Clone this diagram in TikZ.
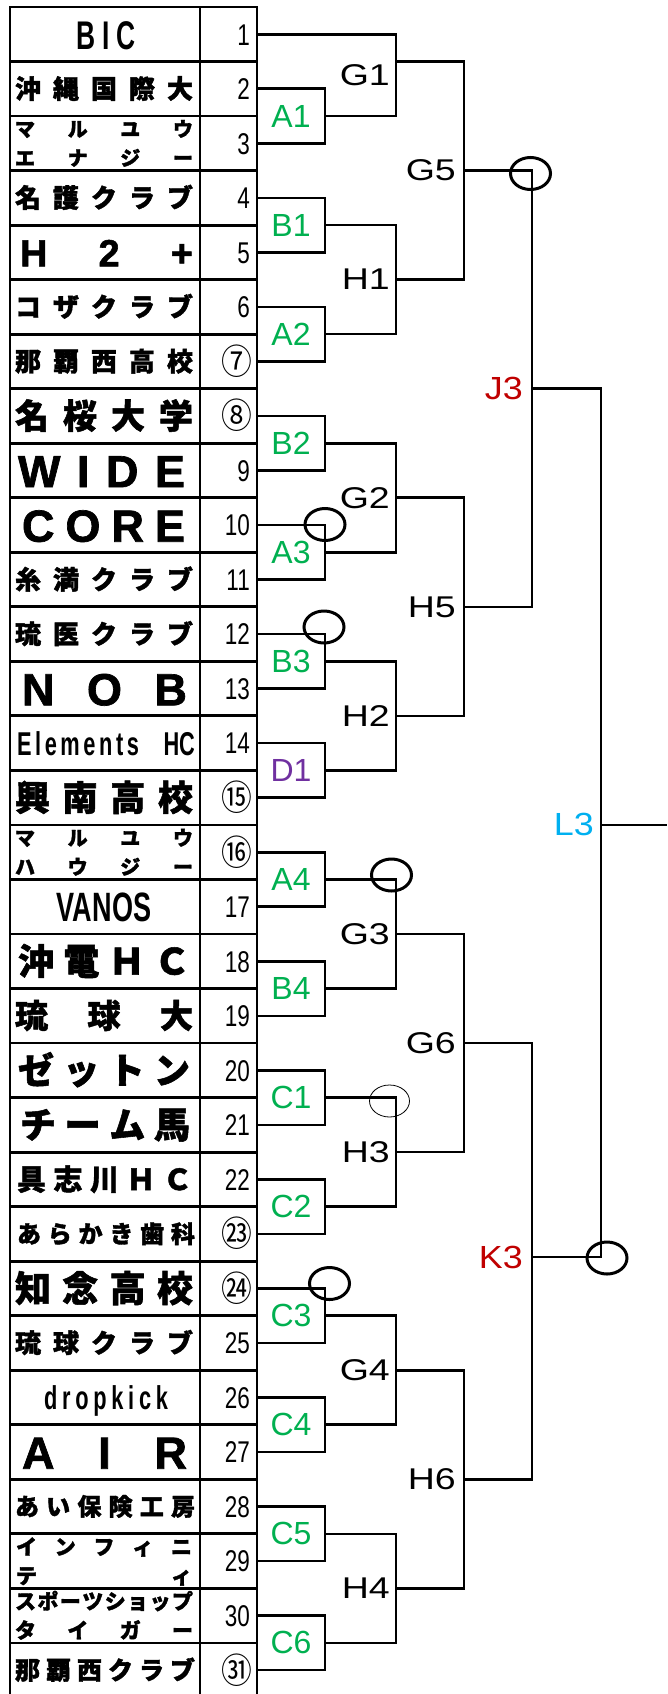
\documentclass[tikz,border=0pt]{standalone}
\usepackage{fontspec}
\usetikzlibrary{calc}
\setmainfont{Liberation Sans}
\newfontfamily\jp{Noto Sans CJK JP}[BoldFeatures={FakeBold=1.5}]
\newfontfamily\lat{Liberation Sans}[BoldFeatures={FakeBold=1.5}]
\newfontfamily\cond{Liberation Sans}[FakeStretch=0.66]
\newfontfamily\numf{Liberation Sans}[FakeStretch=0.75]
\newfontfamily\circf{Noto Sans CJK JP}[FakeStretch=0.88]
\newfontfamily\labf{Liberation Sans}[FakeStretch=1.25]
\newfontfamily\labc{Liberation Sans}[FakeStretch=1.12]
\definecolor{xgreen}{HTML}{00B050}
\definecolor{xpurple}{HTML}{7030A0}
\definecolor{xred}{HTML}{C00000}
\definecolor{xblue}{HTML}{00B0F0}
\newcommand\rc[1]{(7+54.53*(#1-0.5))}
\newcommand\rb[1]{(7+54.53*(#1))}
\newcommand\spr[2]{\makebox[#1pt][s]{#2}}
\newcommand\J{\jp\bfseries}
\newcommand\C{\cond\bfseries}
\newcommand\tn[4]{\node[anchor=base, inner sep=0pt] (t#1) at (#2, {\rc{#1}+0.37*#3}) {\fontsize{#3pt}{#3pt}\selectfont #4};}
\newcommand\tnn[5]{%
 \node[anchor=base, inner sep=0pt] (t#1a) at (#2, {7+54.53*(#1-1)+13+0.37*#3}) {\fontsize{#3pt}{#3pt}\selectfont #4};
 \node[anchor=base, inner sep=0pt] (t#1b) at (#2, {7+54.53*(#1-1)+42+0.37*#3}) {\fontsize{#3pt}{#3pt}\selectfont #5};}
\tikzset{
 tbl/.style={line width=2.8pt},
 br/.style={line width=2.6pt},
 ring/.style={line width=3pt},
 thinring/.style={line width=0.8pt},
 rbox/.style={draw, line width=2.6pt, minimum width=68pt, minimum height=54.53pt, inner sep=0pt,
   font={\fontsize{32pt}{32pt}\selectfont}, text=xgreen},
 num/.style={anchor=base east, inner sep=0pt, font={\numf\fontsize{30pt}{30pt}\selectfont}},
 cnum/.style={anchor=base east, inner sep=0pt, font={\circf\fontsize{35pt}{35pt}\selectfont}},
 lab/.style={anchor=east, inner sep=0pt, font={\labf\fontsize{30pt}{30pt}\selectfont}},
 labk/.style={anchor=east, inner sep=0pt, font={\labc\fontsize{32pt}{32pt}\selectfont}},
}
\begin{document}
\begin{tikzpicture}[x=1pt,y=-1pt]
\clip (0,0) rectangle (667,1694);
\fill[white] (0,0) rectangle (667,1694);
% table
\draw[tbl] (10,7) rectangle (257,1697.5);
\draw[tbl] (200,7) -- (200,1697.5);
\foreach \k in {1,...,30} {\draw[tbl] (10,{7+54.53*\k}) -- (257,{7+54.53*\k});}
% team names
\tn{1}{106}{40}{\C\spr{60}{B\hfill I\hfill C}}
\tn{2}{104}{26}{\J\spr{178}{沖\hfill 縄\hfill 国\hfill 際\hfill 大}}
\tnn{3}{104}{20}{\J\spr{178}{マ\hfill ル\hfill ユ\hfill ウ}}{\J\spr{178}{エ\hfill ナ\hfill ジ\hfill ー}}
\tn{4}{104}{26}{\J\spr{178}{名\hfill 護\hfill ク\hfill ラ\hfill ブ}}
\tn{5}{106.5}{38}{\lat\bfseries\spr{173}{H\hfill 2\hfill +}}
\tn{6}{104}{26}{\J\spr{178}{コ\hfill ザ\hfill ク\hfill ラ\hfill ブ}}
\tn{7}{104}{26}{\J\spr{178}{那\hfill 覇\hfill 西\hfill 高\hfill 校}}
\tn{8}{104}{34}{\J\spr{178}{名\hfill 桜\hfill 大\hfill 学}}
\tn{9}{101.5}{45}{\lat\bfseries\spr{167}{W\hfill I\hfill D\hfill E}}
\tn{10}{103.5}{45}{\lat\bfseries\spr{163}{C\hfill O\hfill R\hfill E}}
\tn{11}{104}{26}{\J\spr{178}{糸\hfill 満\hfill ク\hfill ラ\hfill ブ}}
\tn{12}{104}{26}{\J\spr{178}{琉\hfill 医\hfill ク\hfill ラ\hfill ブ}}
\tn{13}{104.5}{45}{\lat\bfseries\spr{165}{N\hfill O\hfill B}}
\tn{14}{106}{33}{\C\spr{178}{\spr{122}{E\hfill l\hfill e\hfill m\hfill e\hfill n\hfill t\hfill s}\hfill HC}}
\tn{15}{104}{35}{\J\spr{178}{興\hfill 南\hfill 高\hfill 校}}
\tnn{16}{104}{20}{\J\spr{178}{マ\hfill ル\hfill ユ\hfill ウ}}{\J\spr{178}{ハ\hfill ウ\hfill ジ\hfill ー}}
\tn{17}{104}{41}{\C VANOS}
\tn{18}{104}{36}{\J\spr{172}{沖\hfill 電\hfill Ｈ\hfill Ｃ}}
\tn{19}{104}{33}{\J\spr{178}{琉\hfill 球\hfill 大}}
\tn{20}{104}{36}{\J\spr{172}{ゼ\hfill ッ\hfill ト\hfill ン}}
\tn{21}{105}{36}{\J\spr{170}{チ\hfill ー\hfill ム\hfill 馬}}
\tn{22}{104.5}{29}{\J\spr{175}{具\hfill 志\hfill 川\hfill Ｈ\hfill Ｃ}}
\tn{23}{106}{24}{\J\spr{178}{あ\hfill ら\hfill か\hfill き\hfill 歯\hfill 科}}
\tn{24}{104}{36}{\J\spr{178}{知\hfill 念\hfill 高\hfill 校}}
\tn{25}{104}{26}{\J\spr{178}{琉\hfill 球\hfill ク\hfill ラ\hfill ブ}}
\tn{26}{106}{33}{\C\spr{124}{d\hfill r\hfill o\hfill p\hfill k\hfill i\hfill c\hfill k}}
\tn{27}{104.5}{45}{\lat\bfseries\spr{165}{A\hfill I\hfill R}}
\tn{28}{105}{24}{\J\spr{180}{あ\hfill い\hfill 保\hfill 険\hfill 工\hfill 房}}
\tnn{29}{104}{21}{\J\spr{176}{イ\hfill ン\hfill フ\hfill ィ\hfill ニ}}{\J\spr{176}{テ\hfill ィ}}
\tnn{30}{104}{21}{\J\spr{178}{ス\hfill ポ\hfill ー\hfill ツ\hfill シ\hfill ョ\hfill ッ\hfill プ}}{\J\spr{178}{タ\hfill イ\hfill ガ\hfill ー}}
\tn{31}{105}{25}{\J\spr{180}{那\hfill 覇\hfill 西\hfill ク\hfill ラ\hfill ブ}}
% numbers
\foreach \i in {1,2,3,4,5,6,9,10,11,12,13,14,17,18,19,20,21,22,25,26,27,28,29,30}
 {\node[num] (n\i) at (250,{\rc{\i}+0.358*30}) {\i};}
\foreach \i/\s in {7/⑦,8/⑧,15/⑮,16/⑯,23/㉓,24/㉔,31/㉛}
 {\node[cnum] (n\i) at (252,{\rc{\i}+0.37*35}) {\s};}
% first-round boxes
\node[rbox] (A1) at (291,{\rb{2}}) {A1};
\node[rbox] (B1) at (291,{\rb{4}}) {B1};
\node[rbox] (A2) at (291,{\rb{6}}) {A2};
\node[rbox] (B2) at (291,{\rb{8}}) {B2};
\node[rbox] (A3) at (291,{\rb{10}}) {A3};
\node[rbox] (B3) at (291,{\rb{12}}) {B3};
\node[rbox, text=xpurple] (D1) at (291,{\rb{14}}) {D1};
\node[rbox] (A4) at (291,{\rb{16}}) {A4};
\node[rbox] (B4) at (291,{\rb{18}}) {B4};
\node[rbox] (C1) at (291,{\rb{20}}) {C1};
\node[rbox] (C2) at (291,{\rb{22}}) {C2};
\node[rbox] (C3) at (291,{\rb{24}}) {C3};
\node[rbox] (C4) at (291,{\rb{26}}) {C4};
\node[rbox] (C5) at (291,{\rb{28}}) {C5};
\node[rbox] (C6) at (291,{\rb{30}}) {C6};
% coordinates
\coordinate (r1) at (257,{\rc{1}});
\coordinate (g1t) at (396,{\rc{1}});  \coordinate (g1b) at (396,{\rb{2}});  \coordinate (g1o) at (396,{\rb{1}});
\coordinate (h1t) at (396,{\rb{4}});  \coordinate (h1b) at (396,{\rb{6}});  \coordinate (h1o) at (396,{\rb{5}});
\coordinate (g2t) at (396,{\rb{8}});  \coordinate (g2b) at (396,{\rb{10}}); \coordinate (g2o) at (396,{\rb{9}});
\coordinate (h2t) at (396,{\rb{12}}); \coordinate (h2b) at (396,{\rb{14}}); \coordinate (h2o) at (396,{\rb{13}});
\coordinate (g3t) at (396,{\rb{16}}); \coordinate (g3b) at (396,{\rb{18}}); \coordinate (g3o) at (396,{\rb{17}});
\coordinate (h3t) at (396,{\rb{20}}); \coordinate (h3b) at (396,{\rb{22}}); \coordinate (h3o) at (396,{\rb{21}});
\coordinate (g4t) at (396,{\rb{24}}); \coordinate (g4b) at (396,{\rb{26}}); \coordinate (g4o) at (396,{\rb{25}});
\coordinate (h4t) at (396,{\rb{28}}); \coordinate (h4b) at (396,{\rb{30}}); \coordinate (h4o) at (396,{\rb{29}});
\coordinate (g5t) at (464,{\rb{1}});  \coordinate (g5b) at (464,{\rb{5}});  \coordinate (g5o) at (464,{\rb{3}});
\coordinate (h5t) at (464,{\rb{9}});  \coordinate (h5b) at (464,{\rb{13}}); \coordinate (h5o) at (464,{\rb{11}});
\coordinate (g6t) at (464,{\rb{17}}); \coordinate (g6b) at (464,{\rb{21}}); \coordinate (g6o) at (464,{\rb{19}});
\coordinate (h6t) at (464,{\rb{25}}); \coordinate (h6b) at (464,{\rb{29}}); \coordinate (h6o) at (464,{\rb{27}});
\coordinate (j3t) at (532,{\rb{3}});  \coordinate (j3b) at (532,{\rb{11}}); \coordinate (j3o) at (532,{\rb{7}});
\coordinate (k3t) at (532,{\rb{19}}); \coordinate (k3b) at (532,{\rb{27}}); \coordinate (k3o) at (532,1257);
\coordinate (l3t) at (601,{\rb{7}});  \coordinate (l3b) at (601,1257);      \coordinate (l3o) at (601,{\rb{15}});
\coordinate (rend) at (667,{\rb{15}});
% round 2
\draw[br] (r1) -- (g1t) -- (g1b) -- (A1.east);
\draw[br] (B1.east) -- (h1t) -- (h1b) -- (A2.east);
\draw[br] (B2.east) -- (g2t) -- (g2b) -- (A3.east);
\draw[br] (B3.east) -- (h2t) -- (h2b) -- (D1.east);
\draw[br] (A4.east) -- (g3t) -- (g3b) -- (B4.east);
\draw[br] (C1.east) -- (h3t) -- (h3b) -- (C2.east);
\draw[br] (C3.east) -- (g4t) -- (g4b) -- (C4.east);
\draw[br] (C5.east) -- (h4t) -- (h4b) -- (C6.east);
% round 3
\draw[br] (g1o) -- (g5t) -- (g5b) -- (h1o);
\draw[br] (g2o) -- (h5t) -- (h5b) -- (h2o);
\draw[br] (g3o) -- (g6t) -- (g6b) -- (h3o);
\draw[br] (g4o) -- (h6t) -- (h6b) -- (h4o);
% round 4
\draw[br] (g5o) -- (j3t) -- (j3b) -- (h5o);
\draw[br] (g6o) -- (k3t) -- (k3b) -- (h6o);
% final
\draw[br] (j3o) -- (l3t) -- (l3b) -- (k3o);
\draw[br] (l3o) -- (rend);
% labels
\node[lab] (G1) at (390,75) {G1};
\node[lab] (H1) at (390,{\rb{5}}) {H1};
\node[lab] (G2) at (390,{\rb{9}}) {G2};
\node[lab] (H2) at (390,{\rb{13}}) {H2};
\node[lab] (G3) at (390,{\rb{17}}) {G3};
\node[lab] (H3) at (390,{\rb{21}}) {H3};
\node[lab] (G4) at (390,{\rb{25}}) {G4};
\node[lab] (H4) at (390,{\rb{29}}) {H4};
\node[lab] (G5) at (456,{\rb{3}}) {G5};
\node[lab] (H5) at (456,{\rb{11}}) {H5};
\node[lab] (G6) at (456,{\rb{19}}) {G6};
\node[lab] (H6) at (456,{\rb{27}}) {H6};
\node[labk, text=xred] (J3) at (523,{\rb{7}}) {J3};
\node[labk, text=xred] (K3) at (523,1257) {K3};
\node[labk, text=xblue] (L3) at (594,{\rb{15}}) {L3};
% rings
\draw[ring] (530.5,173.5) ellipse [x radius=20, y radius=16];
\draw[ring] (325,524.5) ellipse [x radius=20, y radius=16];
\draw[ring] (324,627) ellipse [x radius=20, y radius=16];
\draw[ring] (391.5,875) ellipse [x radius=20, y radius=16];
\draw[thinring] (389.5,1101) ellipse [x radius=20, y radius=16];
\draw[ring] (329.5,1283.5) ellipse [x radius=20, y radius=16];
\draw[ring] (607,1258) ellipse [x radius=20, y radius=16];
\end{tikzpicture}
\end{document}
